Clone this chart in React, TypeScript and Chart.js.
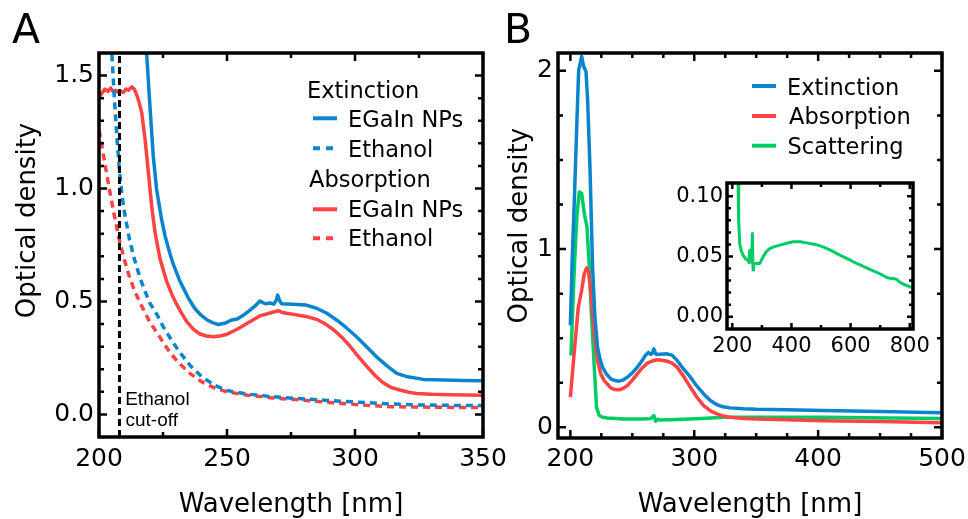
import React, { useEffect, useRef } from "react";
import { Chart, registerables } from "chart.js";
Chart.register(...registerables);

const FONT = "'DejaVu Sans', sans-serif";
const ARIAL = "'Liberation Sans', Arial, sans-serif";
const BLUE = "#0a84cc";
const RED = "#ff4343";
const GREEN = "#00cc66";

// ---------- Panel A data (wavelength nm / optical density) ----------
const aExtNpX = [217.8, 218.6, 219.9, 221.2, 222.5, 224.5, 225.8, 227.5, 229, 231.6, 234.9, 237.5, 240, 242.5, 244.6, 246.6, 249.5, 251.8, 254, 256.5, 259, 261, 262.9, 264, 265, 267, 268.3, 269.2, 269.8, 270.5, 271.3, 274, 277.2, 281, 285, 289, 292.8, 296.5, 300.6, 304.5, 308.4, 312.5, 316.3, 320, 326.7, 335, 342, 350];
const aExtNpY = [1.75, 1.6, 1.364, 1.143, 0.996, 0.86, 0.79, 0.72, 0.665, 0.59, 0.515, 0.468, 0.438, 0.416, 0.405, 0.398, 0.405, 0.418, 0.422, 0.44, 0.462, 0.48, 0.502, 0.495, 0.49, 0.493, 0.488, 0.505, 0.528, 0.505, 0.49, 0.489, 0.487, 0.484, 0.47, 0.448, 0.418, 0.385, 0.344, 0.3, 0.255, 0.215, 0.182, 0.168, 0.155, 0.152, 0.15, 0.149];

const aExtEtX = [204.5, 205, 206, 207, 208, 209, 210, 212, 214, 216, 218, 220, 222.5, 225, 228, 231, 235.5, 240, 245, 250, 258, 268, 278, 288, 300, 314, 325, 337, 350];
const aExtEtY = [1.7, 1.6, 1.4, 1.225, 1.08, 0.97, 0.89, 0.77, 0.68, 0.605, 0.545, 0.49, 0.445, 0.39, 0.335, 0.283, 0.218, 0.168, 0.13, 0.106, 0.09, 0.078, 0.07, 0.063, 0.055, 0.046, 0.042, 0.04, 0.039];

const aAbsNpX = [200, 201, 202.3, 203.5, 204.5, 205.5, 206.5, 207.5, 208.5, 209.5, 210.5, 211.5, 212.8, 213.8, 214.7, 215.7, 216.7, 218, 219.3, 220.6, 221.9, 223.8, 226.4, 228.5, 230.3, 232.3, 234.2, 236.8, 239.4, 242, 244.6, 247.2, 249.8, 252.4, 255, 258.9, 262.8, 266.5, 270, 272, 275, 278.4, 281.5, 285, 288.5, 291.5, 295, 298, 301, 304.5, 308, 311, 314, 317.5, 321, 324, 330, 337, 344, 350];
const aAbsNpY = [1.4, 1.42, 1.44, 1.43, 1.445, 1.43, 1.435, 1.425, 1.43, 1.425, 1.44, 1.435, 1.45, 1.44, 1.416, 1.38, 1.335, 1.217, 1.07, 0.92, 0.805, 0.69, 0.59, 0.53, 0.488, 0.447, 0.412, 0.378, 0.356, 0.347, 0.344, 0.347, 0.354, 0.368, 0.384, 0.41, 0.436, 0.448, 0.459, 0.45, 0.445, 0.438, 0.432, 0.421, 0.4, 0.376, 0.34, 0.303, 0.26, 0.214, 0.17, 0.14, 0.12, 0.108, 0.098, 0.093, 0.089, 0.087, 0.086, 0.085];

const aAbsEtX = [200, 202, 204, 206, 208, 210, 212, 214, 216, 218, 220, 222.5, 225, 228, 231, 235.5, 240, 245, 250, 258, 268, 280, 291.5, 304.5, 314, 330, 350];
const aAbsEtY = [1.26, 1.13, 1.0, 0.88, 0.77, 0.68, 0.605, 0.545, 0.495, 0.45, 0.405, 0.365, 0.32, 0.27, 0.23, 0.182, 0.145, 0.118, 0.1, 0.085, 0.073, 0.063, 0.052, 0.04, 0.034, 0.032, 0.03];

const aCutoffX = [208, 208];
const aCutoffY = [-0.1, 1.6];

// ---------- Panel B data ----------
const bExtX = [200, 201.5, 203.2, 205.4, 206.7, 208, 209.1, 210.7, 212.6, 213.9, 215.8, 217.9, 219.8, 221.9, 224, 226, 229, 232.6, 236, 239.3, 242.5, 246, 250, 254, 257.5, 260.7, 263, 264.8, 266.3, 267.4, 268.4, 269.3, 272, 278.1, 282, 286.2, 291, 296.9, 302, 307.6, 313, 318.3, 323, 329, 340, 350.4, 375, 403.9, 450, 500];
const bExtY = [0.572, 0.95, 1.275, 1.743, 2.006, 2.043, 2.081, 2.024, 1.996, 1.837, 1.462, 0.9, 0.619, 0.45, 0.38, 0.337, 0.3, 0.272, 0.262, 0.259, 0.265, 0.281, 0.305, 0.337, 0.37, 0.405, 0.42, 0.409, 0.415, 0.44, 0.42, 0.409, 0.41, 0.412, 0.405, 0.375, 0.33, 0.281, 0.232, 0.187, 0.15, 0.127, 0.115, 0.109, 0.104, 0.101, 0.098, 0.094, 0.088, 0.082];

const bAbsX = [200, 203.2, 206.4, 209.1, 211.2, 213.1, 214.7, 216.6, 219.3, 221.9, 224.5, 227.3, 232.6, 236, 239.3, 242.5, 246, 250, 254, 258, 262.1, 266, 270.1, 274, 278.1, 282, 286.2, 291, 296.9, 302, 307.6, 313, 318.3, 323, 329, 340, 350.4, 375, 403.9, 450, 500];
const bAbsY = [0.169, 0.431, 0.675, 0.769, 0.862, 0.894, 0.872, 0.75, 0.525, 0.375, 0.3, 0.262, 0.221, 0.212, 0.21, 0.218, 0.234, 0.265, 0.3, 0.333, 0.36, 0.372, 0.379, 0.376, 0.371, 0.36, 0.337, 0.29, 0.225, 0.17, 0.122, 0.092, 0.075, 0.064, 0.056, 0.05, 0.047, 0.042, 0.037, 0.032, 0.026];

const bScaX = [200.5, 201.8, 203.2, 205.4, 207.2, 209.1, 211.2, 213.4, 215.3, 217.1, 219.3, 221.1, 223.3, 226, 230, 243.4, 255, 262.1, 265, 267.4, 268.8, 270.5, 272.8, 280, 296.9, 310, 323.6, 350.4, 403.9, 457.4, 500];
const bScaY = [0.403, 0.65, 0.9, 1.2, 1.321, 1.312, 1.2, 1.125, 0.9, 0.619, 0.337, 0.112, 0.066, 0.056, 0.052, 0.047, 0.047, 0.048, 0.05, 0.066, 0.034, 0.045, 0.041, 0.043, 0.047, 0.051, 0.056, 0.056, 0.056, 0.052, 0.05];

// ---------- Inset data (scattering, full range) ----------
const inScaX = [218.5, 219.2, 221.5, 224.9, 230, 236.2, 245, 253.1, 256, 258.8, 262.1, 265, 267.8, 270, 272, 275.7, 285, 292.7, 304, 315, 326.6, 340, 360.5, 383, 405.6, 430, 450.8, 480, 507.3, 535, 563.8, 592, 620.3, 650, 676.8, 700, 722, 735, 744.6, 755, 767.2, 780, 798.9, 811];
const inScaY = [0.15, 0.115, 0.08, 0.0608, 0.055, 0.0511, 0.048, 0.047, 0.045, 0.0552, 0.0483, 0.045, 0.069, 0.0387, 0.043, 0.0442, 0.0442, 0.0442, 0.0497, 0.054, 0.0566, 0.058, 0.0594, 0.061, 0.0622, 0.0622, 0.0613, 0.06, 0.058, 0.0548, 0.0511, 0.0478, 0.0442, 0.041, 0.0381, 0.0355, 0.0326, 0.0318, 0.0318, 0.031, 0.0285, 0.0268, 0.0249, 0.0245];

// ---------- Tick values ----------
const aXTicks = [200, 250, 300, 350];
const aXMinor = [225, 275, 325];
const aYTicks = [0, 0.5, 1.0, 1.5];
const aYMinor = [0.1, 0.2, 0.3, 0.4, 0.6, 0.7, 0.8, 0.9, 1.1, 1.2, 1.3, 1.4];
const bXTicks = [200, 300, 400, 500];
const bXMinor = [225, 250, 275, 325, 350, 375, 425, 450, 475];
const bYTicks = [0, 1, 2];
const bYMinor = [0.25, 0.5, 0.75, 1.25, 1.5, 1.75];
const inXTicks = [200, 400, 600, 800];
const inXMinor = [300, 500, 700];
const inYTicks = [0, 0.05, 0.1];
const inYMinor = [0.01, 0.02, 0.03, 0.04, 0.06, 0.07, 0.08, 0.09];

const legendA = ["Extinction", "EGaIn NPs", "Ethanol", "Absorption", "EGaIn NPs", "Ethanol"];
const legendB = ["Extinction", "Absorption", "Scattering"];

const LW = 3.5;

function pts(xs: number[], ys: number[]) {
  return xs.map((x, i) => ({ x, y: ys[i] }));
}

function ds(xs: number[], ys: number[], color: string, dash: number[] = [], width = LW) {
  return {
    data: pts(xs, ys),
    borderColor: color,
    backgroundColor: color,
    borderWidth: width,
    borderDash: dash,
    pointRadius: 0,
    tension: 0,
    fill: false,
    borderJoinStyle: "round" as const,
  };
}

function axis(min: number, max: number, ticks: number[], fmt: (v: number) => string, fontSize: number, pad: number, size: number, horizontal: boolean) {
  return {
    type: "linear" as const,
    min,
    max,
    grid: { display: false, drawTicks: false },
    border: { display: false },
    ticks: {
      font: { family: FONT, size: fontSize },
      color: "#000",
      padding: pad,
      maxRotation: 0,
      minRotation: 0,
      autoSkip: false,
      callback: (v: any) => fmt(Number(v)),
    },
    afterBuildTicks: (s: any) => {
      s.ticks = ticks.map((v) => ({ value: v }));
    },
    afterFit: (s: any) => {
      if (horizontal) s.height = size;
      else s.width = size;
      s.paddingLeft = 0;
      s.paddingRight = 0;
      s.paddingTop = 0;
      s.paddingBottom = 0;
    },
  };
}

type Spec = {
  xMajor: number[]; xMinor: number[]; yMajor: number[]; yMinor: number[];
  majorLen: number; minorLen: number; frameW: number; tickW: number; whiteBg?: boolean;
  extra?: (ctx: CanvasRenderingContext2D) => void;
};

function decoPlugin(spec: Spec) {
  return {
    id: "deco",
    beforeDatasetsDraw(chart: any) {
      if (!spec.whiteBg) return;
      const { ctx, chartArea: a } = chart;
      ctx.save();
      ctx.fillStyle = "#fff";
      ctx.fillRect(a.left, a.top, a.right - a.left, a.bottom - a.top);
      ctx.restore();
    },
    afterDraw(chart: any) {
      const { ctx, chartArea: a, scales } = chart;
      const sx = scales.x, sy = scales.y;
      ctx.save();
      ctx.strokeStyle = "#000";
      ctx.lineWidth = spec.tickW;
      ctx.lineCap = "butt";
      ctx.beginPath();
      const vx = (vals: number[], len: number) => {
        vals.forEach((v) => {
          const p = sx.getPixelForValue(v);
          ctx.moveTo(p, a.bottom); ctx.lineTo(p, a.bottom - len);
          ctx.moveTo(p, a.top); ctx.lineTo(p, a.top + len);
        });
      };
      const vy = (vals: number[], len: number) => {
        vals.forEach((v) => {
          const p = sy.getPixelForValue(v);
          ctx.moveTo(a.left, p); ctx.lineTo(a.left + len, p);
          ctx.moveTo(a.right, p); ctx.lineTo(a.right - len, p);
        });
      };
      vx(spec.xMajor, spec.majorLen);
      vx(spec.xMinor, spec.minorLen);
      vy(spec.yMajor, spec.majorLen);
      vy(spec.yMinor, spec.minorLen);
      ctx.stroke();
      ctx.lineWidth = spec.frameW;
      ctx.strokeRect(a.left, a.top, a.right - a.left, a.bottom - a.top);
      if (spec.extra) spec.extra(ctx);
      ctx.restore();
    },
  };
}

function text(ctx: CanvasRenderingContext2D, s: string, x: number, y: number, size: number, align: CanvasTextAlign = "left", family = FONT) {
  ctx.font = `${size}px ${family}`;
  ctx.fillStyle = "#000";
  ctx.textAlign = align;
  ctx.textBaseline = "alphabetic";
  ctx.fillText(s, x, y);
}

function vtext(ctx: CanvasRenderingContext2D, s: string, x: number, cy: number, size: number) {
  ctx.save();
  ctx.translate(x, cy);
  ctx.rotate(-Math.PI / 2);
  text(ctx, s, 0, 0, size, "center");
  ctx.restore();
}

function legLine(ctx: CanvasRenderingContext2D, x1: number, x2: number, y: number, color: string, dash: number[] = []) {
  ctx.save();
  ctx.strokeStyle = color;
  ctx.lineWidth = 4;
  ctx.setLineDash(dash);
  ctx.beginPath();
  ctx.moveTo(x1, y);
  ctx.lineTo(x2, y);
  ctx.stroke();
  ctx.restore();
}

const baseOpts = {
  animation: false as const,
  responsive: false,
  devicePixelRatio: 1,
  events: [] as any[],
  plugins: { legend: { display: false }, tooltip: { enabled: false } },
};

const LEG = 22.5;

function configA(): any {
  return {
    type: "line",
    data: {
      datasets: [
        ds(aCutoffX, aCutoffY, "#000", [7, 4], 3),
        ds(aExtEtX, aExtEtY, BLUE, [7, 5]),
        ds(aAbsEtX, aAbsEtY, RED, [7, 5]),
        ds(aExtNpX, aExtNpY, BLUE),
        ds(aAbsNpX, aAbsNpY, RED),
      ],
    },
    options: {
      ...baseOpts,
      layout: { padding: { left: 0, right: 37, top: 53, bottom: 0 } },
      scales: {
        x: axis(200, 350, aXTicks, (v) => String(v), 25, 7, 82, true),
        y: axis(-0.1, 1.6, aYTicks, (v) => v.toFixed(1), 25, 5, 99, false),
      },
    },
    plugins: [
      decoPlugin({
        xMajor: aXTicks, xMinor: aXMinor, yMajor: aYTicks, yMinor: aYMinor,
        majorLen: 8, minorLen: 5, frameW: 3.5, tickW: 2.5,
        extra: (ctx) => {
          text(ctx, "A", 12, 43.3, 41);
          vtext(ctx, "Optical density", 35, 220.5, 26);
          text(ctx, "Wavelength [nm]", 291, 511.7, 26, "center");
          text(ctx, legendA[0], 307, 98.3, LEG);
          legLine(ctx, 313, 337, 118.3, BLUE);
          text(ctx, legendA[1], 348, 127.3, LEG);
          legLine(ctx, 313, 337, 148.3, BLUE, [7, 6]);
          text(ctx, legendA[2], 348, 156.7, LEG);
          text(ctx, legendA[3], 309, 187.3, LEG);
          legLine(ctx, 313, 337, 209.3, RED);
          text(ctx, legendA[4], 348, 216.7, LEG);
          legLine(ctx, 313, 337, 238.3, RED, [7, 6]);
          text(ctx, legendA[5], 348, 246, LEG);
          text(ctx, "Ethanol", 125.2, 404.5, 19, "left", ARIAL);
          text(ctx, "cut-off", 125.5, 425.5, 19, "left", ARIAL);
        },
      }),
    ],
  };
}

function configB(): any {
  return {
    type: "line",
    data: {
      datasets: [
        ds(bExtX, bExtY, BLUE),
        ds(bAbsX, bAbsY, RED),
        ds(bScaX, bScaY, GREEN),
      ],
    },
    options: {
      ...baseOpts,
      layout: { padding: { left: 0, right: 26, top: 53, bottom: 0 } },
      scales: {
        x: axis(190, 500, bXTicks, (v) => String(v), 25, 6, 81, true),
        y: axis(-0.06, 2.1, bYTicks, (v) => String(v), 25, 5, 68, false),
      },
    },
    plugins: [
      decoPlugin({
        xMajor: bXTicks, xMinor: bXMinor, yMajor: bYTicks, yMinor: bYMinor,
        majorLen: 8, minorLen: 5, frameW: 3.5, tickW: 2.5,
        extra: (ctx) => {
          text(ctx, "B", 14, 43.3, 41);
          vtext(ctx, "Optical density", 37.3, 225.7, 26);
          text(ctx, "Wavelength [nm]", 260, 511.7, 26, "center");
          legLine(ctx, 262, 286, 86, BLUE);
          text(ctx, legendB[0], 297, 95, LEG);
          legLine(ctx, 262, 286, 116, RED);
          text(ctx, legendB[1], 299, 124, LEG);
          legLine(ctx, 262, 286, 145.7, GREEN);
          text(ctx, legendB[2], 297.5, 154, LEG);
        },
      }),
    ],
  };
}

function configInset(): any {
  return {
    type: "line",
    data: { datasets: [ds(inScaX, inScaY, GREEN, [], 3)] },
    options: {
      ...baseOpts,
      layout: { padding: { left: 0, right: 47, top: 23, bottom: 0 } },
      scales: {
        x: axis(182, 811, inXTicks, (v) => String(v), 21, 5, 41, true),
        y: axis(-0.0102, 0.111, inYTicks, (v) => v.toFixed(2), 21, 4, 87, false),
      },
    },
    plugins: [
      decoPlugin({
        xMajor: inXTicks, xMinor: inXMinor, yMajor: inYTicks, yMinor: inYMinor,
        majorLen: 6, minorLen: 4, frameW: 3.5, tickW: 2.5, whiteBg: true,
      }),
    ],
  };
}

export default function App() {
  const aRef = useRef<HTMLCanvasElement>(null);
  const bRef = useRef<HTMLCanvasElement>(null);
  const iRef = useRef<HTMLCanvasElement>(null);

  useEffect(() => {
    const charts = [
      new Chart(aRef.current!, configA()),
      new Chart(bRef.current!, configB()),
      new Chart(iRef.current!, configInset()),
    ];
    return () => charts.forEach((c) => c.destroy());
  }, []);

  const abs = (l: number, t: number, w: number, h: number): React.CSSProperties => ({
    position: "absolute", left: l, top: t, width: w, height: h,
  });

  return (
    <div style={{ position: "fixed", left: 0, top: 0, width: 968, height: 519, background: "#fff", overflow: "hidden" }}>
      <canvas ref={aRef} width={520} height={519} style={abs(0, 0, 520, 519)} />
      <canvas ref={bRef} width={478} height={519} style={abs(490, 0, 478, 519)} />
      <canvas ref={iRef} width={320} height={210} style={abs(640, 160, 320, 210)} />
    </div>
  );
}
